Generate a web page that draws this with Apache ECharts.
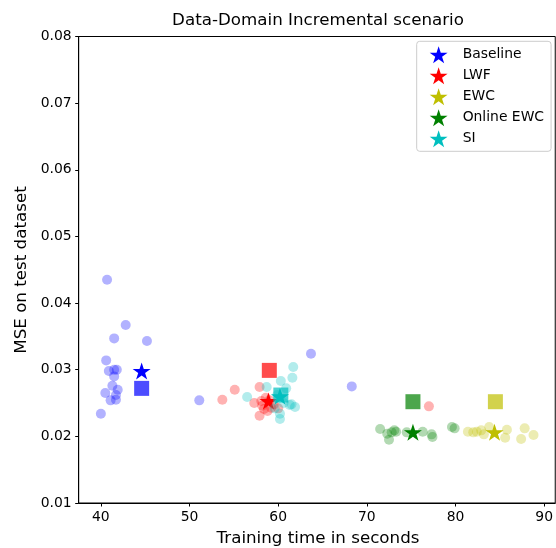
<!DOCTYPE html>
<html>
<head>
<meta charset="utf-8">
<script src="https://cdn.jsdelivr.net/npm/echarts@6/dist/echarts.min.js"></script>
<style>html,body{margin:0;padding:0;background:#fff}#c{width:556px;height:548px}</style>
</head>
<body>
<div id="c"></div>
<script>
// ---- data ----
const methods = ['Baseline', 'LWF', 'EWC', 'Online EWC', 'SI'];
const colors = ['#0000ff', '#ff0000', '#bfbf00', '#008000', '#00bfbf'];
const xTicks = [40, 50, 60, 70, 80, 90];

const baselineRuns = [[40.7,0.0435],[42.8,0.0367],[41.5,0.0347],[45.2,0.0343],[40.6,0.0314],[40.9,0.0298],[41.5,0.0300],[41.8,0.0300],[41.5,0.0290],[41.3,0.0276],[41.9,0.0270],[40.5,0.0265],[41.7,0.0262],[41.1,0.0254],[41.7,0.0255],[40.0,0.0234],[51.1,0.0254],[63.7,0.0324],[68.3,0.0275]];
const baselineStar = [[44.6,0.0298]];
const baselineSquare = [[44.6,0.0272]];

const lwfRuns = [[53.7,0.0255],[55.1,0.0270],[57.9,0.0274],[57.3,0.0250],[57.9,0.0231],[58.2,0.0246],[58.6,0.0258],[58.8,0.0238],[59.0,0.0254],[58.4,0.0241],[59.5,0.0248],[58.1,0.0253],[59.2,0.0243],[60.0,0.0242],[77.0,0.0245]];
const lwfStar = [[58.9,0.0253]];
const lwfSquare = [[59.0,0.0299]];

const ewcRuns = [[81.4,0.0207],[82.0,0.0206],[82.4,0.0207],[82.9,0.0209],[83.2,0.0203],[83.8,0.0214],[85.6,0.0198],[85.8,0.0210],[87.8,0.0212],[87.4,0.0196],[88.8,0.0202]];
const ewcStar = [[84.4,0.0206]];
const ewcSquare = [[84.5,0.0252]];

const onlineEwcRuns = [[71.5,0.0211],[72.5,0.0195],[72.8,0.0206],[73.1,0.0209],[72.3,0.0204],[73.3,0.0207],[74.5,0.0206],[76.3,0.0207],[77.3,0.0203],[77.4,0.0199],[79.6,0.0214],[79.9,0.0212]];
const onlineEwcStar = [[75.2,0.0206]];
const onlineEwcSquare = [[75.2,0.0252]];

const siRuns = [[61.7,0.0304],[61.6,0.0288],[60.3,0.0283],[58.7,0.0274],[56.5,0.0259],[60.9,0.0272],[61.3,0.0247],[61.5,0.0248],[61.9,0.0244],[60.2,0.0234],[60.2,0.0226],[59.6,0.0242],[60.6,0.0250],[59.9,0.0262]];
const siStar = [[60.2,0.0260]];
const siSquare = [[60.3,0.0262]];

const groups = [
  [baselineRuns, baselineStar, baselineSquare],
  [lwfRuns, lwfStar, lwfSquare],
  [ewcRuns, ewcStar, ewcSquare],
  [onlineEwcRuns, onlineEwcStar, onlineEwcSquare],
  [siRuns, siStar, siSquare]
];

const STAR = 'path://M0,-1 L0.2245,-0.309 L0.951,-0.309 L0.363,0.118 L0.588,0.809 L0,0.382 L-0.588,0.809 L-0.363,0.118 L-0.951,-0.309 L-0.2245,-0.309 Z';
const FONT = 'DejaVu Sans';

const series = [];
methods.forEach((m, i) => {
  const [runs, star, sq] = groups[i];
  series.push({ name: m + ' runs', type: 'scatter', data: runs, symbol: 'circle', symbolSize: 10,
    itemStyle: { color: colors[i], opacity: 0.3 }, silent: true });
  series.push({ name: m + ' square', type: 'scatter', data: sq, symbol: 'rect', symbolSize: 15,
    itemStyle: { color: colors[i], opacity: 0.7 }, silent: true });
  series.push({ name: m, type: 'scatter', data: star, symbol: STAR, symbolSize: [18, 17],
    itemStyle: { color: colors[i], opacity: 1 }, silent: true });
});

const chart = echarts.init(document.getElementById('c'), null, { renderer: 'canvas' });
chart.setOption({
  animation: false,
  grid: { left: 78.7, right: 0.5, top: 36.5, bottom: 45, show: true, borderColor: '#000', borderWidth: 1, backgroundColor: 'transparent' },
  xAxis: {
    type: 'value', min: 37.5, max: 91.25,
    axisLine: { show: true, lineStyle: { color: '#000', width: 1 } },
    axisTick: { show: true, length: 3.5, lineStyle: { color: '#000' }, customValues: xTicks },
    axisLabel: { margin: 7, color: '#000', fontSize: 13.9, fontFamily: FONT, customValues: xTicks, formatter: v => String(v) },
    splitLine: { show: false }
  },
  yAxis: {
    type: 'value', min: 0.01, max: 0.08, interval: 0.01,
    axisLine: { show: true, lineStyle: { color: '#000', width: 1 } },
    axisTick: { show: true, length: 3.5, lineStyle: { color: '#000' } },
    axisLabel: { margin: 7, color: '#000', fontSize: 13.9, fontFamily: FONT, formatter: v => v.toFixed(2) },
    splitLine: { show: false }
  },
  legend: {
    data: methods.map(m => ({ name: m, icon: STAR })),
    orient: 'vertical', left: 416.7, top: 41.3,
    padding: [5, 7, 4, 13], itemWidth: 38, itemHeight: 17, itemGap: 4,
    backgroundColor: 'rgba(255,255,255,0.8)', borderColor: '#cccccc', borderWidth: 1, borderRadius: 3,
    textStyle: { fontSize: 13.9, fontFamily: FONT, color: '#000' },
    selectedMode: false
  },
  graphic: [
    { type: 'text', x: 318, y: 21, style: { text: 'Data-Domain Incremental scenario', font: '16.7px "DejaVu Sans"', fill: '#000', align: 'center', verticalAlign: 'middle' } },
    { type: 'text', x: 318, y: 539, style: { text: 'Training time in seconds', font: '16.7px "DejaVu Sans"', fill: '#000', align: 'center', verticalAlign: 'middle' } },
    { type: 'text', x: 22, y: 270, rotation: Math.PI / 2, style: { text: 'MSE on test dataset', font: '16.7px "DejaVu Sans"', fill: '#000', align: 'center', verticalAlign: 'middle' } }
  ],
  series: series
});
</script>
</body>
</html>
